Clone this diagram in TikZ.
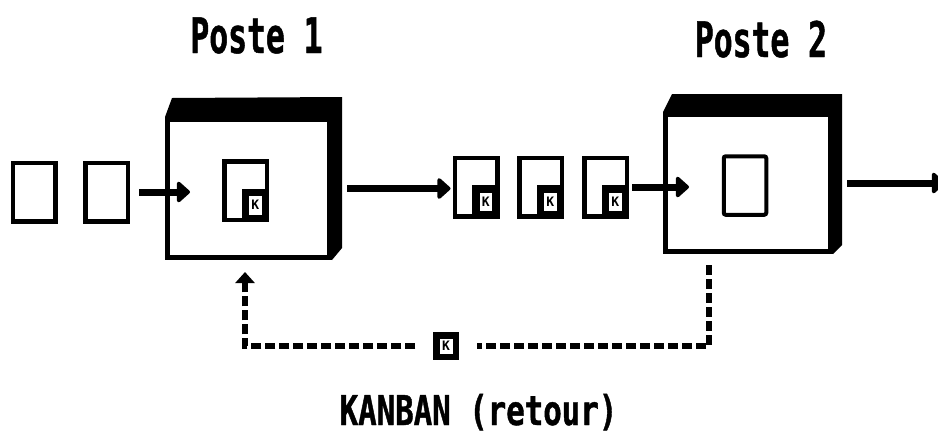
\documentclass[tikz,border=0pt]{standalone}
\usepackage{fontspec}
\usetikzlibrary{arrows.meta}

\newfontfamily\postefont[FakeStretch=0.64, FakeBold=1]{DejaVu Sans Mono}
\newfontfamily\retourfont[FakeStretch=0.75, FakeBold=1]{DejaVu Sans Mono}
\newfontfamily\kfont{DejaVu Sans Mono}

\tikzset{
  card/.style={draw, line width=4.5pt, fill=white, minimum width=42.5pt,
    minimum height=58.5pt, inner sep=0pt},
  kcorner/.style={draw, line width=7.5pt, fill=white, minimum width=20pt,
    minimum height=26pt, inner sep=0pt,
    font=\kfont\bfseries\fontsize{13}{13}\selectfont},
  poste/.style={draw, line width=5pt, fill=white, inner sep=0pt},
  flow/.style={-{Triangle[length=14pt,width=24pt,round]}, line width=7pt},
  ret/.style={line width=6pt, dash pattern=on 10pt off 4pt},
}

\begin{document}
\begin{tikzpicture}[x=1pt, y=-1pt]
  \useasboundingbox (0,0) rectangle (938,437);
  \clip (0,0) rectangle (938,437);

  %% ---- titles ----
  \node[font=\postefont\bfseries\fontsize{49}{49}\selectfont, anchor=base]
    (t1) at (256.5,53) {Poste 1};
  \node[font=\postefont\bfseries\fontsize{49}{49}\selectfont, anchor=base]
    (t2) at (761,57) {Poste 2};

  %% ---- stock before poste 1 ----
  \node[card] (b1) at (34,192) {};
  \node[card] (b2) at (106.5,192) {};

  %% ---- poste 1 (box + black depth) ----
  \node[poste, minimum width=162pt, minimum height=138pt] (p1) at (248.5,188.5) {};
  \fill (p1.north west) -- ++(7,-19) -- ([xshift=10pt,yshift=20pt]p1.north east)
    -- ([xshift=10pt,yshift=12pt]p1.south east) -- (p1.south east)
    -- (p1.north east) -- cycle;
  \node[card] (c1) at (245.5,190.5) {};
  \node[kcorner, anchor=south east] (kc0) at (c1.south east) {K};

  %% ---- cards waiting with their kanban ----
  \foreach \i/\x in {1/476, 2/540.5, 3/605.5} {
    \node[card] (k\i) at (\x,187) {};
    \node[kcorner, anchor=south east] (kc\i) at (k\i.south east) {K};
  }

  %% ---- poste 2 ----
  \node[poste, minimum width=165pt, minimum height=137pt] (p2) at (748,183) {};
  \fill (p2.north west) -- ++(9,-18) -- ([xshift=9pt,yshift=18pt]p2.north east)
    -- ([xshift=9pt,yshift=9pt]p2.south east) -- (p2.south east)
    -- (p2.north east) -- cycle;
  \node[card, line width=4pt, rounded corners=2pt] (c2) at (745,185.5) {};

  %% ---- flow of parts ----
  \draw[flow, shorten <=9pt, shorten >=-25pt] (b2.east) -- (b2.east -| p1.west);
  \draw[flow, shorten <=15pt, shorten >=2pt] (p1.east) -- (p1.east -| k1.west);
  \draw[flow, shorten <=3pt, shorten >=-26pt] (k3.east) -- (k3.east -| p2.west);
  \coordinate (out) at ([xshift=112pt]p2.east);
  \draw[flow, shorten <=14pt] (p2.east) -- (out);

  %% ---- kanban going back ----
  \node[kcorner, line width=6.5pt, minimum width=19.5pt, minimum height=21.5pt,
    outer xsep=21pt] (kk) at (446,346) {K};
  \coordinate (r2) at ([xshift=-39pt,yshift=-11pt]p2.south);
  \coordinate (r1) at ([xshift=-3.5pt,yshift=-12pt]p1.south);
  \draw[ret] (r2) |- (kk.east);
  \draw[ret, -{Triangle[length=11pt,width=19pt]}] (kk.west) -| (r1);

  \node[font=\retourfont\bfseries\fontsize{41}{41}\selectfont, anchor=base]
    (lbl) at (478.5,425) {KANBAN (retour)};
\end{tikzpicture}
\end{document}
